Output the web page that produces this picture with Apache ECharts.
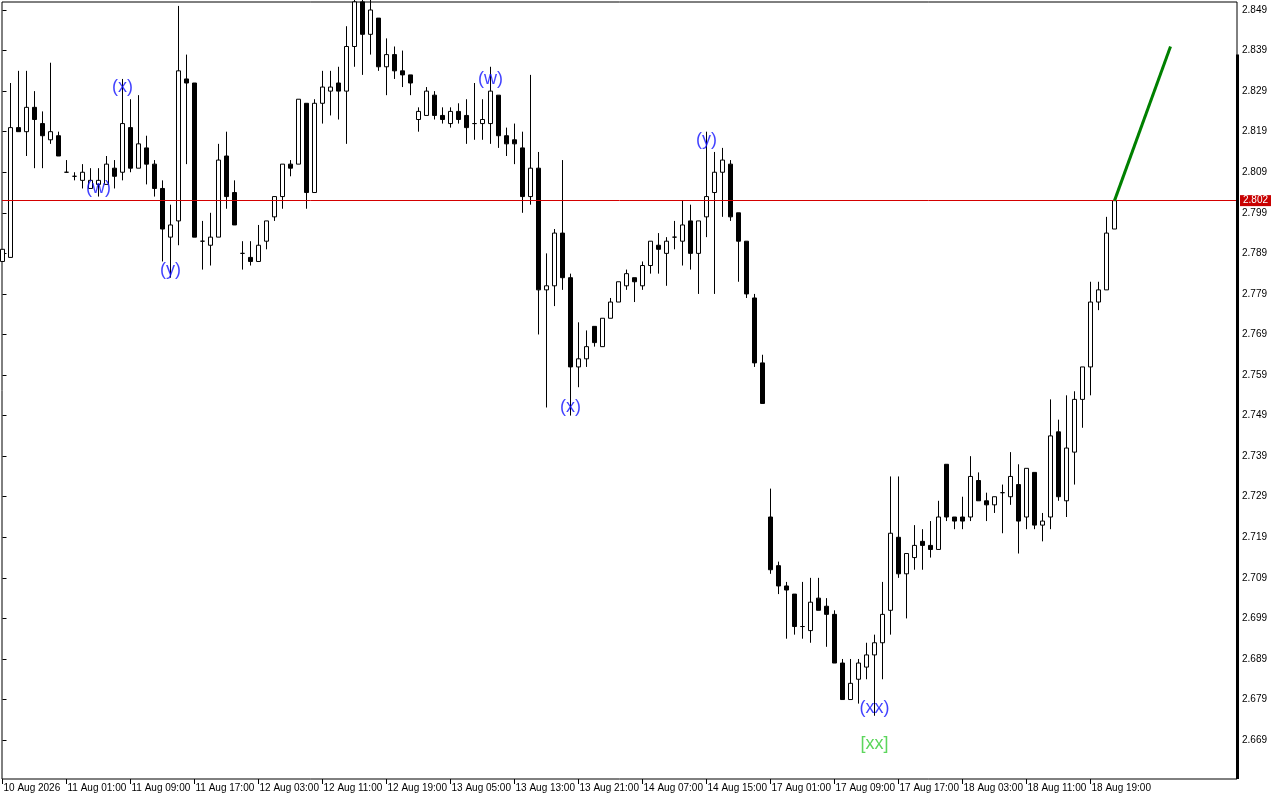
<!DOCTYPE html>
<html>
<head>
<meta charset="utf-8">
<script src="https://cdn.jsdelivr.net/npm/echarts@6/dist/echarts.min.js"></script>
<style>
html,body{margin:0;padding:0;background:#fff;}
#chart{width:1280px;height:800px;}
</style>
</head>
<body>
<div id="chart"></div>
<script>
// ---- data (H1 bars) ----
const opens = [2.787,2.788,2.820,2.819,2.825,2.821,2.817,2.818,2.809,2.808,2.807,2.805,2.806,2.806,2.810,2.809,2.820,2.810,2.815,2.811,
2.805,2.793,2.797,2.832,2.831,2.792,2.791,2.793,2.813,2.804,2.789,2.788,2.787,2.792,2.798,2.803,2.811,2.811,2.826,2.804,
2.826,2.829,2.831,2.829,2.840,2.851,2.843,2.847,2.835,2.838,2.834,2.833,2.822,2.823,2.828,2.823,2.821,2.824,2.823,2.821,
2.821,2.821,2.828,2.818,2.817,2.815,2.803,2.810,2.780,2.781,2.794,2.783,2.761,2.763,2.771,2.766,2.773,2.777,2.781,2.783,
2.781,2.786,2.791,2.789,2.793,2.792,2.797,2.789,2.798,2.804,2.809,2.811,2.799,2.792,2.778,2.762,2.724,2.712,2.707,2.705,
2.697,2.696,2.704,2.702,2.700,2.688,2.679,2.684,2.687,2.690,2.693,2.701,2.719,2.710,2.714,2.718,2.717,2.716,2.737,2.724,
2.724,2.724,2.733,2.728,2.727,2.730,2.729,2.732,2.724,2.735,2.722,2.724,2.745,2.728,2.740,2.753,2.761,2.777,2.780,2.795];
const highs = [2.790,2.831,2.834,2.834,2.829,2.824,2.836,2.819,2.812,2.809,2.811,2.810,2.810,2.813,2.812,2.832,2.827,2.828,2.818,2.812,
2.807,2.801,2.850,2.838,2.831,2.797,2.799,2.816,2.819,2.807,2.792,2.792,2.796,2.797,2.803,2.811,2.812,2.827,2.826,2.827,
2.834,2.834,2.835,2.845,2.853,2.854,2.852,2.847,2.842,2.840,2.839,2.833,2.825,2.830,2.829,2.825,2.825,2.826,2.827,2.831,
2.827,2.835,2.828,2.820,2.821,2.819,2.833,2.814,2.789,2.795,2.812,2.784,2.772,2.770,2.771,2.773,2.778,2.782,2.785,2.783,
2.787,2.792,2.794,2.793,2.797,2.802,2.801,2.797,2.819,2.814,2.815,2.812,2.799,2.792,2.779,2.764,2.731,2.713,2.708,2.705,
2.708,2.709,2.709,2.704,2.701,2.689,2.689,2.689,2.693,2.695,2.708,2.734,2.734,2.715,2.722,2.721,2.723,2.728,2.737,2.724,
2.729,2.739,2.735,2.730,2.729,2.732,2.740,2.737,2.736,2.735,2.725,2.753,2.748,2.754,2.755,2.761,2.782,2.782,2.798,2.802];
const lows = [2.787,2.788,2.819,2.813,2.810,2.810,2.816,2.813,2.809,2.807,2.805,2.805,2.803,2.806,2.805,2.807,2.809,2.810,2.806,2.803,
2.787,2.783,2.791,2.811,2.793,2.785,2.786,2.793,2.800,2.796,2.785,2.786,2.787,2.790,2.797,2.800,2.808,2.811,2.800,2.804,
2.821,2.823,2.822,2.816,2.835,2.833,2.838,2.834,2.828,2.832,2.830,2.828,2.819,2.823,2.822,2.821,2.820,2.821,2.816,2.817,
2.817,2.816,2.815,2.813,2.811,2.799,2.801,2.769,2.751,2.776,2.780,2.749,2.756,2.761,2.766,2.766,2.773,2.777,2.780,2.777,
2.780,2.784,2.784,2.781,2.790,2.786,2.785,2.779,2.793,2.779,2.798,2.797,2.782,2.778,2.761,2.752,2.710,2.705,2.694,2.695,
2.694,2.693,2.701,2.692,2.688,2.679,2.679,2.678,2.684,2.675,2.684,2.695,2.709,2.699,2.711,2.711,2.714,2.716,2.723,2.721,
2.721,2.723,2.728,2.723,2.725,2.720,2.727,2.715,2.721,2.721,2.718,2.721,2.728,2.724,2.732,2.746,2.754,2.775,2.780,2.795];
const closes = [2.790,2.820,2.819,2.825,2.822,2.818,2.819,2.813,2.809,2.808,2.809,2.807,2.807,2.811,2.808,2.821,2.810,2.816,2.811,2.805,
2.795,2.796,2.834,2.831,2.793,2.792,2.793,2.812,2.803,2.796,2.789,2.787,2.791,2.797,2.803,2.811,2.810,2.827,2.804,2.826,
2.830,2.830,2.829,2.840,2.851,2.843,2.849,2.835,2.838,2.834,2.833,2.831,2.824,2.829,2.823,2.822,2.824,2.822,2.820,2.821,
2.822,2.829,2.818,2.816,2.816,2.803,2.810,2.780,2.781,2.794,2.783,2.761,2.763,2.766,2.767,2.773,2.777,2.782,2.784,2.782,
2.786,2.792,2.790,2.792,2.793,2.796,2.789,2.797,2.803,2.809,2.812,2.798,2.792,2.779,2.762,2.752,2.711,2.707,2.706,2.697,
2.697,2.703,2.701,2.700,2.688,2.679,2.683,2.688,2.690,2.693,2.700,2.720,2.710,2.715,2.717,2.717,2.716,2.724,2.724,2.723,
2.723,2.734,2.728,2.727,2.729,2.730,2.734,2.723,2.736,2.722,2.723,2.744,2.729,2.741,2.753,2.761,2.777,2.780,2.794,2.802];

const timeLabels = ['10 Aug 2026','11 Aug 01:00','11 Aug 09:00','11 Aug 17:00','12 Aug 03:00','12 Aug 11:00',
'12 Aug 19:00','13 Aug 05:00','13 Aug 13:00','13 Aug 21:00','14 Aug 07:00','14 Aug 15:00',
'17 Aug 01:00','17 Aug 09:00','17 Aug 17:00','18 Aug 03:00','18 Aug 11:00','18 Aug 19:00'];
const timeLabelBars = [0,8,16,24,32,40,48,56,64,72,80,88,96,104,112,120,128,136];
const priceTicks = [2.669,2.679,2.689,2.699,2.709,2.719,2.729,2.739,2.749,2.759,2.769,2.779,2.789,2.799,2.809,2.819,2.829,2.839,2.849];
const bidPrice = 2.802;
const projection = [[139, 2.802], [146, 2.840]];
const waveLabels = [[12, 2.805, '(w)'], [15, 2.830, '(x)'], [21, 2.785, '(y)'], [61, 2.832, '(w)'],
                    [71, 2.751, '(x)'], [88, 2.817, '(y)'], [109, 2.677, '(xx)']];
const degreeLabels = [[109, 2.668, '[xx]']];

// ---- chart ----
const candles = opens.map((o, i) => [i, o, closes[i], lows[i], highs[i]]);
const FONT = 'Liberation Sans';
const chart = echarts.init(document.getElementById('chart'), null, {renderer: 'canvas'});

const option = {
  animation: false,
  backgroundColor: '#ffffff',
  grid: {left: 2, top: 2, right: 43, bottom: 21, show: true, borderColor: '#000', borderWidth: 1, containLabel: false},
  xAxis: {
    type: 'value', min: -0.0625, max: 154.3125,
    axisLine: {show: false},
    splitLine: {show: false},
    axisTick: {show: true, length: 5, lineStyle: {color: '#000', width: 1}, customValues: timeLabelBars},
    axisLabel: {
      show: true, customValues: timeLabelBars, align: 'left', margin: 4, padding: [0, 0, 0, 1],
      fontFamily: FONT, fontSize: 10, color: '#000',
      formatter: v => timeLabels[timeLabelBars.indexOf(Math.round(v))] || ''
    }
  },
  yAxis: {
    type: 'value', position: 'right', min: 2.65941, max: 2.85097, scale: true,
    axisLine: {show: false},
    splitLine: {show: false},
    axisTick: {show: true, length: 4, lineStyle: {color: '#000'}, customValues: priceTicks},
    axisLabel: {show: true, customValues: priceTicks, margin: 5, fontFamily: FONT, fontSize: 10, color: '#000',
      formatter: v => v.toFixed(3)}
  },
  series: [
    {
      type: 'candlestick',
      data: candles,
      encode: {x: 0, y: [1, 2, 3, 4]},
      barWidth: 4,
      clip: true,
      itemStyle: {color: '#ffffff', color0: '#000000', borderColor: '#000000', borderColor0: '#000000',
                  borderColorDoji: '#000000', borderWidth: 1}
    },
    {
      type: 'line', data: projection, symbol: 'none', clip: false,
      lineStyle: {color: '#008000', width: 3}, z: 5,
      markLine: {
        silent: true, symbol: ['none', 'none'], animation: false, precision: 3,
        lineStyle: {color: '#d40000', width: 1, type: 'solid'},
        label: {show: true, position: 'end', distance: 3, formatter: bidPrice.toFixed(3),
                color: '#fff', backgroundColor: '#c80000', padding: [1, 3, 0, 3],
                fontFamily: FONT, fontSize: 10},
        data: [{yAxis: bidPrice}]
      }
    },
    {
      type: 'scatter', data: waveLabels, symbolSize: 1, itemStyle: {color: 'rgba(0,0,0,0)'},
      label: {show: true, position: 'inside', formatter: p => p.data[2], color: '#1010ff',
              fontFamily: FONT, fontSize: 18}, z: 6
    },
    {
      type: 'scatter', data: degreeLabels, symbolSize: 1, itemStyle: {color: 'rgba(0,0,0,0)'},
      label: {show: true, position: 'inside', formatter: p => p.data[2], color: '#33cc33',
              fontFamily: FONT, fontSize: 18}, z: 6
    }
  ]
};
chart.setOption(option);

// thick segment of the right price-scale border
const topPx = chart.convertToPixel({yAxisIndex: 0}, 2.838);
const bottomPx = chart.convertToPixel({yAxisIndex: 0}, 2.65941);
const rightPx = chart.convertToPixel({xAxisIndex: 0}, 154.3125);
chart.setOption({graphic: [{type: 'rect', shape: {x: rightPx - 1, y: topPx, width: 3, height: bottomPx - topPx},
  style: {fill: '#000'}, z: 10}]});
</script>
</body>
</html>
